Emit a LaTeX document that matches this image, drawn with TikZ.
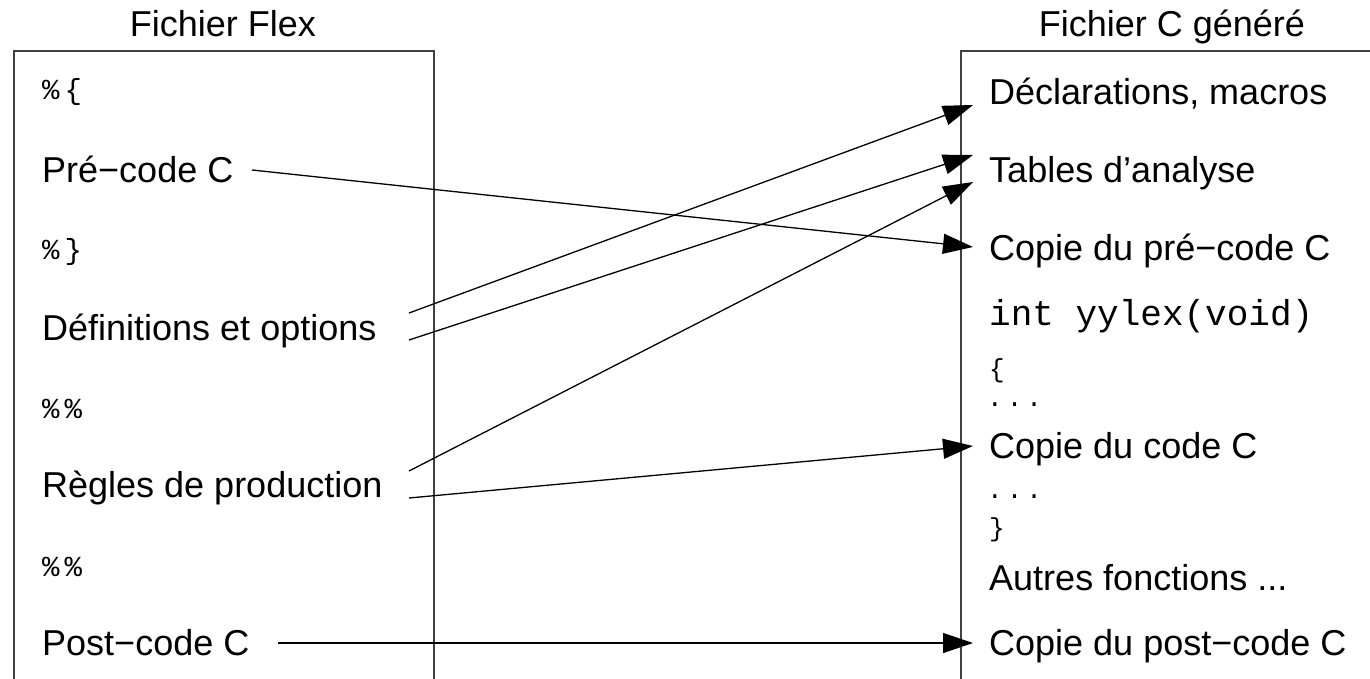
\documentclass[tikz,border=0pt]{standalone}
\usepackage{fontspec}
\setmainfont{Liberation Sans}
\setmonofont{Liberation Mono}
\usetikzlibrary{arrows.meta}
\begin{document}
\begin{tikzpicture}[x=1pt,y=-1pt,
  txt/.style={anchor=base west,inner sep=0pt,font=\fontsize{36}{40}\selectfont},
  code/.style={anchor=base west,inner sep=0pt,font=\ttfamily\fontsize{36}{40}\selectfont},
  smallcode/.style={anchor=base west,inner sep=0pt,font=\ttfamily\fontsize{29}{32}\selectfont},
  brace/.style={anchor=base west,inner sep=0pt,font=\ttfamily\fontsize{26}{30}\selectfont},
  ttl/.style={anchor=base,inner sep=0pt,font=\fontsize{36}{40}\selectfont},
  frame/.style={draw=black!75,line width=1.4pt},
  arr/.style={draw=black,line width=1.3pt,-{Triangle[length=30pt,width=20pt]}}]
\clip (0,0) rectangle (1370,679);
\useasboundingbox (0,0) rectangle (1370,679);
% frames
\draw[frame] (14,700) -- (14,51) -- (434,51) -- (434,700);
\draw[frame] (961,700) -- (961,51) -- (1400,51);
% titles
\node[ttl] (tflex) at (223,37) {Fichier Flex};
\node[ttl] (tc) at (1172,37) {Fichier C généré};
% left file
\node[smallcode] (l1) at (42,100) {\%\kern5pt\{};
\node[txt] (pre) at (42,183) {Pré−code C};
\node[smallcode] (l2) at (42,259) {\%\kern5pt\}};
\node[txt] (defs) at (42,340) {Définitions et options};
\node[smallcode] (l3) at (42,418) {\%\kern5pt\%};
\node[txt] (regles) at (42,497) {Règles de production};
\node[smallcode] (l4) at (42,576) {\%\kern5pt\%};
\node[txt] (post) at (42,655) {Post−code C};
% right file
\node[txt] (decl) at (989,105) {Déclarations, macros};
\node[txt] (tables) at (989,183) {Tables d’analyse};
\node[txt] (cpre) at (989,260) {Copie du pré−code C};
\node[code] (yylex) at (989,325) {int yylex(void)};
\node[brace] (ob) at (989,377) {\{};
\node[brace] (dots1) at (987,406) {.\kern4pt.\kern4pt.};
\node[txt] (ccode) at (989,458) {Copie du code C};
\node[brace] (dots2) at (987,498) {.\kern4pt.\kern4pt.};
\node[brace] (cb) at (989,536) {\}};
\node[txt] (autres) at (989,590) {Autres fonctions ...};
\node[txt] (cpost) at (989,655) {Copie du post−code C};
% connector ends
\coordinate (s-pre) at (252,170);
\coordinate (s-def1) at (409,313);
\coordinate (s-def2) at (409,340);
\coordinate (s-reg1) at (409,471);
\coordinate (s-reg2) at (409,498);
\coordinate (s-post) at (278,643);
\coordinate (e-decl) at (973,105);
\coordinate (e-tab1) at (973,155);
\coordinate (e-tab2) at (973,182);
\coordinate (e-cpre) at (973,247);
\coordinate (e-code) at (973,446);
\coordinate (e-post) at (973,643);
% connectors
\draw[arr] (s-pre) -- (e-cpre);
\draw[arr] (s-def1) -- (e-decl);
\draw[arr] (s-def2) -- (e-tab1);
\draw[arr] (s-reg1) -- (e-tab2);
\draw[arr] (s-reg2) -- (e-code);
\draw[arr] (s-post) -- (e-post);
\end{tikzpicture}
\end{document}
